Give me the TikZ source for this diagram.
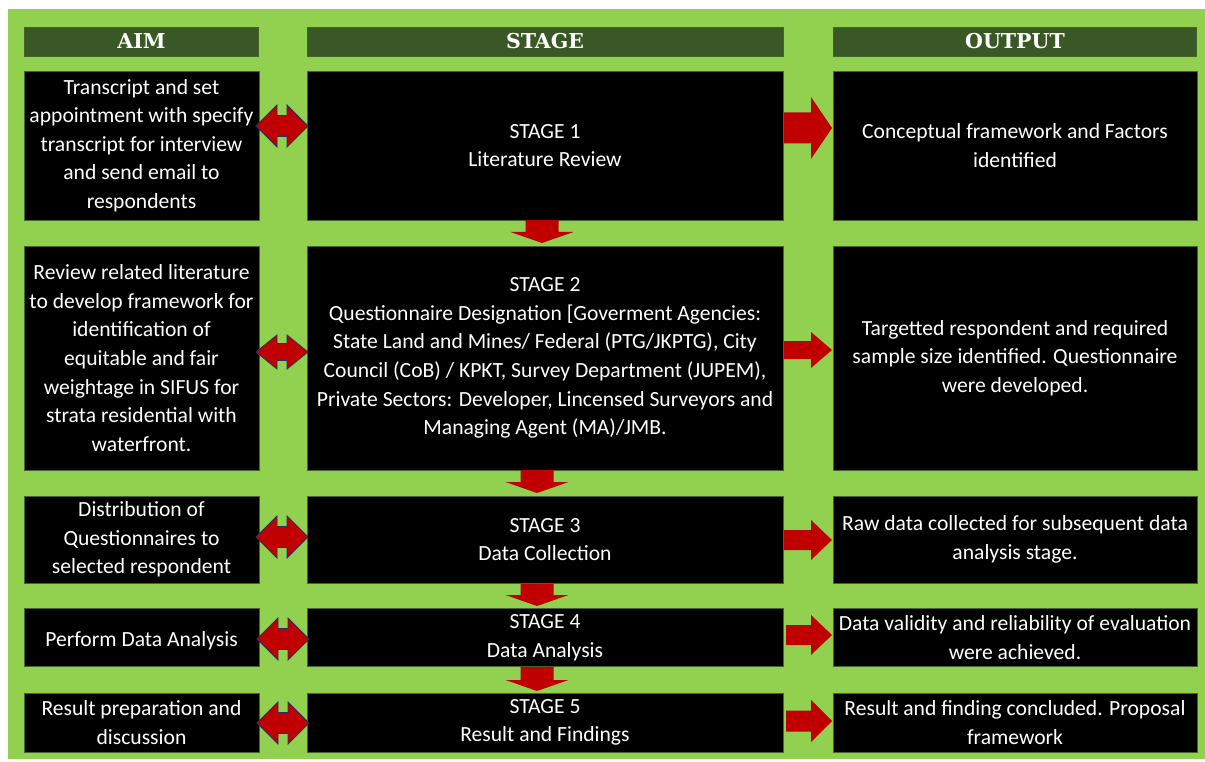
\documentclass[tikz,border=0pt]{standalone}
\usepackage{fontspec}
\setmainfont{Carlito}
\newfontfamily\headfont{DejaVu Serif}
\definecolor{leaf}{RGB}{146,208,80}
\definecolor{moss}{RGB}{58,88,38}
\definecolor{rim}{RGB}{70,100,45}
\definecolor{brick}{RGB}{192,0,0}
\definecolor{navyrim}{RGB}{40,50,90}
\tikzset{
  x=1pt, y=-1pt,
  cell/.style={fill=black, draw=rim, line width=0.8pt, text=white, align=center,
    inner sep=1pt, font=\fontsize{21.6}{28.6}\selectfont,
    execute at begin node={\rule{0pt}{22pt}}},
  head/.style={fill=moss, draw=rim, line width=0.8pt, text=white,
    font=\headfont\bfseries\fontsize{20.5}{22}\selectfont},
  blockarrow/.style={fill=brick, draw=none},
  twinarrow/.style={fill=brick, draw=navyrim, line width=0.8pt, line join=miter},
}
% right-pointing block arrow: start x, y centre, tip x, head half height
\newcommand{\rightblock}[4]{%
  \fill[blockarrow] (#1,#2-#4/2) -- ({#3-21},#2-#4/2) -- ({#3-21},#2-#4) -- (#3,#2)
    -- ({#3-21},#2+#4) -- ({#3-21},#2+#4/2) -- (#1,#2+#4/2) -- cycle;}
% double-headed block arrow: left tip, right tip, y centre, head half height
\newcommand{\twinblock}[4]{%
  \draw[twinarrow] (#1,#3) -- (#1+21,#3-#4) -- (#1+21,#3-#4/2) -- (#2-21,#3-#4/2)
    -- (#2-21,#3-#4) -- (#2,#3) -- (#2-21,#3+#4) -- (#2-21,#3+#4/2)
    -- (#1+21,#3+#4/2) -- (#1+21,#3+#4) -- cycle;}
% downward block arrow: x centre, top y, tip y
\newcommand{\downblock}[3]{%
  \fill[blockarrow] (#1-16.5,#2) -- (#1+16.5,#2) -- (#1+16.5,#3-11) -- (#1+31.5,#3-11)
    -- (#1,#3) -- (#1-31.5,#3-11) -- (#1-16.5,#3-11) -- cycle;}
\begin{document}
\begin{tikzpicture}
\useasboundingbox (0,0) rectangle (1205,762);
\fill[white] (0,0) rectangle (1205,762);
\fill[leaf] (8,9) rectangle (1205,759);

% column headers
\node[head, minimum width=234pt, minimum height=29pt] (hAim) at (141.5,41.5) {AIM};
\node[head, minimum width=476pt, minimum height=29pt] (hStage) at (545,41.5) {STAGE};
\node[head, minimum width=363pt, minimum height=29pt] (hOut) at (1015,41.5) {OUTPUT};

% row 1
\node[cell, minimum width=235pt, minimum height=149pt] (a1) at (141.5,145.5)
  {Transcript and set\\appointment with specify\\transcript for interview\\and send email to\\respondents};
\node[cell, minimum width=476pt, minimum height=149pt] (s1) at (545,145.5)
  {STAGE 1\\Literature Review};
\node[cell, minimum width=364pt, minimum height=149pt] (o1) at (1015,145.5)
  {Conceptual framework and Factors\\identified};

% row 2
\node[cell, minimum width=235pt, minimum height=224pt] (a2) at (141.5,358)
  {Review related literature\\to develop framework for\\identification of\\equitable and fair\\weightage in SIFUS for\\strata residential with\\waterfront.};
\node[cell, minimum width=476pt, minimum height=224pt] (s2) at (545,358)
  {STAGE 2\\Questionnaire Designation [Goverment Agencies:\\State Land and Mines/ Federal (PTG/JKPTG), City\\Council (CoB) / KPKT, Survey Department (JUPEM),\\Private Sectors: Developer, Lincensed Surveyors and\\Managing Agent (MA)/JMB.};
\node[cell, minimum width=364pt, minimum height=224pt] (o2) at (1015,358)
  {Targetted respondent and required\\sample size identified. Questionnaire\\were developed.};

% row 3
\node[cell, minimum width=235pt, minimum height=87pt] (a3) at (141.5,539.5)
  {Distribution of\\Questionnaires to\\selected respondent};
\node[cell, minimum width=476pt, minimum height=87pt] (s3) at (545,539.5)
  {STAGE 3\\Data Collection};
\node[cell, minimum width=364pt, minimum height=87pt] (o3) at (1015,539.5)
  {Raw data collected for subsequent data\\analysis stage.};

% row 4
\node[cell, minimum width=235pt, minimum height=58pt] (a4) at (141.5,637.5)
  {Perform Data Analysis};
\node[cell, minimum width=476pt, minimum height=58pt] (s4) at (545,637.5)
  {STAGE 4\\Data Analysis};
\node[cell, minimum width=364pt, minimum height=58pt] (o4) at (1015,637.5)
  {Data validity and reliability of evaluation\\were achieved.};

% row 5
\node[cell, minimum width=235pt, minimum height=59pt] (a5) at (141.5,722.5)
  {Result preparation and\\discussion};
\node[cell, minimum width=476pt, minimum height=59pt] (s5) at (545,722.5)
  {STAGE 5\\Result and Findings};
\node[cell, minimum width=364pt, minimum height=59pt] (o5) at (1015,722.5)
  {Result and finding concluded. Proposal\\framework};

% aim <-> stage links
\twinblock{256}{308}{126}{21}
\twinblock{256}{308}{352}{17}
\twinblock{256}{308}{537}{21}
\twinblock{257}{309}{639}{21}
\twinblock{257}{309}{723}{21}

% stage -> output links
\rightblock{784}{128}{832}{31}
\rightblock{784}{350}{832}{18}
\rightblock{784}{540}{832}{20}
\rightblock{786}{635}{832}{20}
\rightblock{786}{721}{832}{21}

% stage -> stage links
\downblock{542}{220}{243}
\downblock{537}{470}{493}
\downblock{537}{584}{606}
\downblock{537}{667}{691}
\end{tikzpicture}
\end{document}
